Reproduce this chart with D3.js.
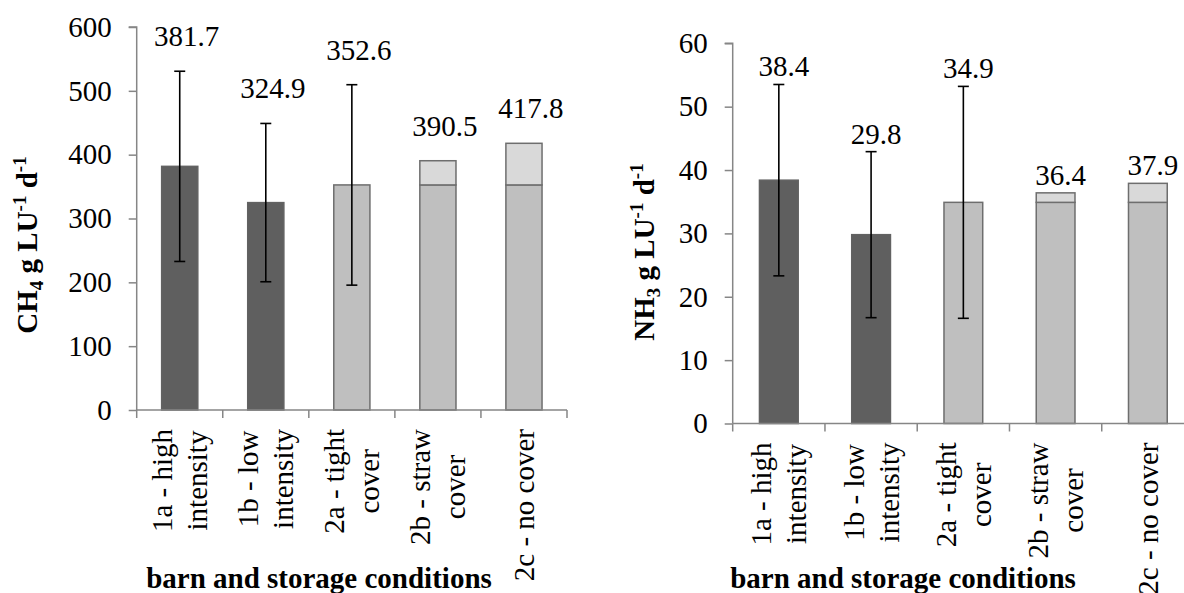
<!DOCTYPE html>
<html>
<head>
<meta charset="utf-8">
<script src="https://cdn.jsdelivr.net/npm/d3@7"></script>
<style>
  body { margin: 0; background: #fff; }
</style>
</head>
<body>
<svg id="chart" width="1184" height="593"></svg>
<script>
// categories (label lines)
const categories = [
  ["1a - high", "intensity"],
  ["1b - low", "intensity"],
  ["2a - tight", "cover"],
  ["2b - straw", "cover"],
  ["2c - no cover"]
];
const barTone = ["dark", "dark", "light", "light", "light"];

// CH4 g LU-1 d-1
const ch4Base  = [381.7, 324.9, 352.6, 352.6, 352.6];
const ch4Total = [381.7, 324.9, 352.6, 390.5, 417.8];
const ch4Err   = [149, 124, 157, null, null];
const ch4Ticks = [0, 100, 200, 300, 400, 500, 600];

// NH3 g LU-1 d-1
const nh3Base  = [38.4, 29.8, 34.9, 34.9, 34.9];
const nh3Total = [38.4, 29.8, 34.9, 36.4, 37.9];
const nh3Err   = [15.1, 13.1, 18.3, null, null];
const nh3Ticks = [0, 10, 20, 30, 40, 50, 60];

const svg = d3.select("#chart");
const AXIS = "#868686";
const FONT = "Liberation Serif";

function drawChart(cfg) {
  const g = svg.append("g");
  const x = d3.scaleBand().domain(d3.range(categories.length))
    .range([cfg.left, cfg.right]).paddingInner(0.58).paddingOuter(0.29);
  const y = d3.scaleLinear().domain([0, cfg.max]).range([cfg.bottom, cfg.top]);
  const step = x.step();

  // bars: base segment
  g.selectAll(".base").data(cfg.base).enter().append("rect")
    .attr("x", (d, i) => x(i))
    .attr("width", x.bandwidth())
    .attr("y", d => y(d))
    .attr("height", d => y(0) - y(d))
    .attr("fill", (d, i) => barTone[i] == "dark" ? "#5f5f5f" : "#bfbfbf")
    .attr("stroke", (d, i) => barTone[i] == "dark" ? "#626262" : "#6e6e6e")
    .attr("stroke-width", 1.5);

  // stacked extra segment
  cfg.total.forEach((d, i) => {
    if (d <= cfg.base[i]) return;
    g.append("rect")
      .attr("x", x(i))
      .attr("width", x.bandwidth())
      .attr("y", y(d))
      .attr("height", y(cfg.base[i]) - y(d))
      .attr("fill", "#d9d9d9")
      .attr("stroke", "#6e6e6e")
      .attr("stroke-width", 1.5);
  });

  // error bars
  cfg.err.forEach((e, i) => {
    if (e == null) return;
    const cx = x(i) + x.bandwidth() / 2;
    const v = cfg.total[i];
    g.append("line").attr("x1", cx).attr("x2", cx)
      .attr("y1", y(v + e)).attr("y2", y(v - e))
      .attr("stroke", "#000").attr("stroke-width", 1.6);
    [v + e, v - e].forEach(t => {
      g.append("line").attr("x1", cx - 5.5).attr("x2", cx + 5.5)
        .attr("y1", y(t)).attr("y2", y(t))
        .attr("stroke", "#000").attr("stroke-width", 1.6);
    });
  });

  // value labels
  g.selectAll(".val").data(cfg.total).enter().append("text")
    .attr("x", (d, i) => x(i) + x.bandwidth() / 2 + cfg.labelDx)
    .attr("y", (d, i) => y(cfg.err[i] == null ? d : d + cfg.err[i]) - cfg.labelGap)
    .attr("text-anchor", "middle")
    .attr("font-family", FONT)
    .attr("font-size", 29)
    .text(d => d.toFixed(1));

  // y axis
  const ya = g.append("g").attr("transform", "translate(" + cfg.left + ",0)")
    .call(d3.axisLeft(y).tickValues(cfg.ticks).tickSize(8).tickPadding(17));
  ya.select(".domain").attr("stroke", AXIS).attr("stroke-width", 1.5)
    .attr("d", "M-8," + y(cfg.max) + "H0V" + y(0));
  ya.selectAll(".tick line").attr("stroke", AXIS).attr("stroke-width", 1.5);
  ya.selectAll(".tick text").attr("font-family", FONT).attr("font-size", 29).attr("fill", "#000");

  // x axis
  const xa = g.append("g").attr("transform", "translate(0," + cfg.bottom + ")");
  xa.append("line").attr("x1", cfg.left).attr("x2", cfg.right)
    .attr("stroke", AXIS).attr("stroke-width", 1.5);
  d3.range(categories.length + 1).forEach(k => {
    const tx = cfg.left + k * step;
    xa.append("line").attr("x1", tx).attr("x2", tx).attr("y1", 0).attr("y2", 8)
      .attr("stroke", AXIS).attr("stroke-width", 1.5);
  });

  // category labels, rotated
  categories.forEach((lines, i) => {
    const cx = x(i) + x.bandwidth() / 2 + 10;
    const texts = lines.map(s => g.append("text").attr("font-family", FONT)
      .attr("font-size", 29).attr("text-anchor", "middle").text(s));
    const maxLen = d3.max(texts, t => t.node().getComputedTextLength());
    texts.forEach((t, j) => {
      const lx = cx + (j - (lines.length - 1) / 2) * 35;
      t.attr("transform", "translate(" + lx + "," + (cfg.bottom + 19 + maxLen / 2) + ") rotate(-90)");
    });
  });

  // axis titles
  g.append("text").attr("x", cfg.xTitleX).attr("y", 588)
    .attr("text-anchor", "middle").attr("font-family", FONT)
    .attr("font-size", 29).attr("font-weight", "bold")
    .text("barn and storage conditions");

  const yt = g.append("text")
    .attr("transform", "translate(" + cfg.yTitleX + "," + cfg.yTitleY + ") rotate(-90)")
    .attr("text-anchor", "middle").attr("font-family", FONT)
    .attr("font-size", 29).attr("font-weight", "bold");
  yt.append("tspan").text(cfg.gas);
  yt.append("tspan").attr("font-size", 19).attr("dy", 6).text(cfg.sub);
  yt.append("tspan").attr("dy", -6).text(" g LU");
  yt.append("tspan").attr("font-size", 19).attr("dy", -11).text("-1");
  yt.append("tspan").attr("dy", 11).text(" d");
  yt.append("tspan").attr("font-size", 19).attr("dy", -11).text("-1");
}

drawChart({
  left: 136.7, right: 567, top: 27, bottom: 410, max: 600,
  base: ch4Base, total: ch4Total, err: ch4Err, ticks: ch4Ticks,
  labelGap: 25, labelDx: 7,
  xTitleX: 319, yTitleX: 37, yTitleY: 245, gas: "CH", sub: "4"
});

drawChart({
  left: 732.7, right: 1194, top: 43.3, bottom: 423.5, max: 60,
  base: nh3Base, total: nh3Total, err: nh3Err, ticks: nh3Ticks,
  labelGap: 8, labelDx: 5,
  xTitleX: 903, yTitleX: 654, yTitleY: 252, gas: "NH", sub: "3"
});
</script>
</body>
</html>
